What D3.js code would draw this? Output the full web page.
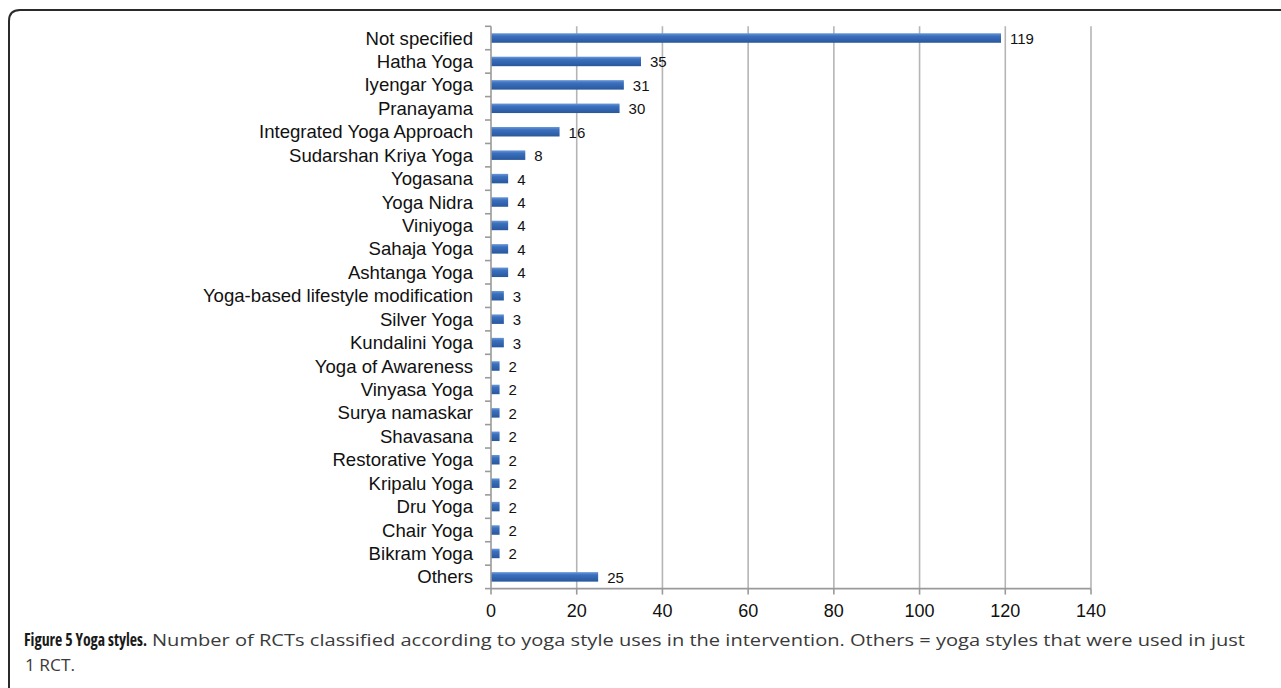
<!DOCTYPE html>
<html><head><meta charset="utf-8">
<script src="https://cdn.jsdelivr.net/npm/d3@7"></script>
<style>body{margin:0;background:#fff;}svg{display:block;}</style>
</head><body>
<svg id="c" width="1281" height="688"></svg>
<script>
const categories = ["Not specified","Hatha Yoga","Iyengar Yoga","Pranayama","Integrated Yoga Approach","Sudarshan Kriya Yoga","Yogasana","Yoga Nidra","Viniyoga","Sahaja Yoga","Ashtanga Yoga","Yoga-based lifestyle modification","Silver Yoga","Kundalini Yoga","Yoga of Awareness","Vinyasa Yoga","Surya namaskar","Shavasana","Restorative Yoga","Kripalu Yoga","Dru Yoga","Chair Yoga","Bikram Yoga","Others"];
const values = [119,35,31,30,16,8,4,4,4,4,4,3,3,3,2,2,2,2,2,2,2,2,2,25];
const xTicks = [0,20,40,60,80,100,120,140];
const captionBold = "Figure 5 Yoga styles.";
const captionRest = "Number of RCTs classified according to yoga style uses in the intervention. Others = yoga styles that were used in just";
const captionLine2 = "1 RCT.";

const svg = d3.select("#c");
const defs = svg.append("defs");
const g = defs.append("linearGradient").attr("id","bg").attr("x1",0).attr("y1",0).attr("x2",0).attr("y2",1);
g.append("stop").attr("offset","0%").attr("stop-color","#6a98d8");
g.append("stop").attr("offset","30%").attr("stop-color","#3b70be");
g.append("stop").attr("offset","100%").attr("stop-color","#28579c");

// frame
svg.append("path")
  .attr("d","M9,1000 L9,21 Q9,10 20,10 L1300,10")
  .attr("fill","none").attr("stroke","#2a2a2a").attr("stroke-width",2);

const plotTop = 26.3, plotBottom = 588.6;
const x = d3.scaleLinear().domain([0,140]).range([491,1091]);
const y = d3.scaleBand().domain(categories).range([plotTop,plotBottom]);
const font = "Liberation Sans, Arial, sans-serif";

// grid
svg.append("g").selectAll("line").data(xTicks.slice(1)).join("line")
  .attr("x1",d=>x(d)).attr("x2",d=>x(d)).attr("y1",plotTop).attr("y2",plotBottom)
  .attr("stroke","#b5b5b5").attr("stroke-width",1.6);

// bars
svg.append("g").selectAll("rect").data(values).join("rect")
  .attr("x",x(0)).attr("y",(d,i)=>y(categories[i])+y.bandwidth()/2-4.75)
  .attr("width",d=>x(d)-x(0)).attr("height",9.5)
  .attr("fill","url(#bg)");

// value labels
svg.append("g").selectAll("text").data(values).join("text")
  .attr("x",d=>x(d)+9).attr("y",(d,i)=>y(categories[i])+y.bandwidth()/2+6)
  .attr("font-family",font).attr("font-size",15).attr("fill","#111")
  .text(d=>d);

// y axis
const yAxis = svg.append("g").attr("transform",`translate(${x(0)},0)`);
yAxis.append("line").attr("x1",0).attr("x2",0).attr("y1",plotTop).attr("y2",plotBottom).attr("stroke","#9a9a9a").attr("stroke-width",1.6);
const bounds = categories.map(c=>y(c)).concat([plotBottom]);
yAxis.selectAll("line.t").data(bounds).join("line").attr("class","t")
  .attr("x1",-6).attr("x2",0).attr("y1",d=>d).attr("y2",d=>d).attr("stroke","#9a9a9a").attr("stroke-width",1.6);
yAxis.selectAll("text").data(categories).join("text")
  .attr("x",-18).attr("y",d=>y(d)+y.bandwidth()/2+6.5)
  .attr("text-anchor","end").attr("font-family",font).attr("font-size",18.6).attr("fill","#111")
  .text(d=>d);

// x axis
const xAxis = svg.append("g").attr("transform",`translate(0,${plotBottom})`);
xAxis.append("line").attr("x1",x(0)).attr("x2",x(140)).attr("stroke","#9a9a9a").attr("stroke-width",1.6);
xAxis.selectAll("line.t").data(xTicks).join("line").attr("class","t")
  .attr("x1",d=>x(d)).attr("x2",d=>x(d)).attr("y1",0).attr("y2",6).attr("stroke","#9a9a9a").attr("stroke-width",1.6);
xAxis.selectAll("text").data(xTicks).join("text")
  .attr("x",d=>x(d)).attr("y",28.5).attr("text-anchor","middle")
  .attr("font-family",font).attr("font-size",18).attr("fill","#111")
  .text(d=>d);

// caption
svg.append("text").attr("x",24).attr("y",646)
  .attr("font-family","Liberation Sans Narrow, Open Sans, sans-serif").attr("font-stretch","condensed")
  .attr("font-size",17).attr("font-weight","bold").attr("fill","#1a1a1a")
  .attr("textLength",123).attr("lengthAdjust","spacingAndGlyphs").text(captionBold);
svg.append("text").attr("x",152).attr("y",646)
  .attr("font-family","Open Sans, sans-serif").attr("font-size",17).attr("fill","#3a3a3a")
  .attr("textLength",1093).attr("lengthAdjust","spacingAndGlyphs").text(captionRest);
svg.append("text").attr("x",25).attr("y",671)
  .attr("font-family","Open Sans, sans-serif").attr("font-size",17).attr("fill","#3a3a3a")
  .attr("textLength",50).attr("lengthAdjust","spacingAndGlyphs").text(captionLine2);
</script>
</body></html>
